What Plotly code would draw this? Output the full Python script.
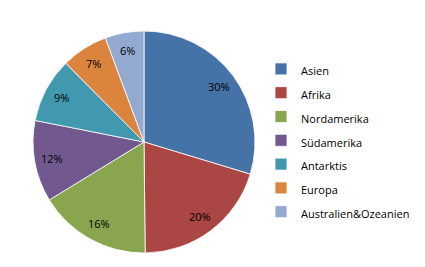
import math
import plotly.graph_objects as go

labels = ["Asien", "Afrika", "Nordamerika", "Südamerika", "Antarktis", "Europa", "Australien&Ozeanien"]
values = [44.6, 30.3, 24.7, 17.8, 14.2, 10.2, 8.5]
colors = ["#4572A7", "#AA4643", "#89A54E", "#71588F", "#4198AF", "#DB843D", "#93A9CF"]

W, H = 425, 267
ML, MR, MT, MB = 33, 0, 31, 14
PW, PH = W - ML - MR, H - MT - MB
DIAM = PH
FONT = "Open Sans, Liberation Sans, Arial, sans-serif"

legend_names = ['<span style="font-size:11px">%s</span>' % s for s in labels]

fig = go.Figure(go.Pie(
    labels=legend_names,
    values=values,
    sort=False,
    direction="clockwise",
    rotation=0,
    marker=dict(colors=colors, line=dict(color="#FFFFFF", width=0.8)),
    textinfo="none",
    hovertext=labels,
    hoverinfo="text+percent",
    domain=dict(x=[0, DIAM / PW], y=[0, 1]),
))

# percentage labels placed along each slice's mid-angle
total = sum(values)
cx, cy = DIAM / 2, PH / 2  # pixels within plot area (y from bottom)
r = DIAM / 2
rho = 0.84
cum = 0.0
for v in values:
    mid = (cum + v / 2) / total * 2 * math.pi
    cum += v
    px = cx + rho * r * math.sin(mid)
    py = cy + rho * r * math.cos(mid)
    fig.add_annotation(
        x=px / PW, y=py / PH, xref="paper", yref="paper",
        text="%d%%" % round(v / total * 100),
        showarrow=False, xanchor="center", yanchor="middle",
        font=dict(family=FONT, size=11, color="#000000"),
    )

fig.update_layout(
    width=W, height=H,
    margin=dict(l=ML, r=MR, t=MT, b=MB, autoexpand=False),
    paper_bgcolor="#FFFFFF",
    plot_bgcolor="#FFFFFF",
    showlegend=True,
    legend=dict(
        x=(261 - ML) / PW, xanchor="left", y=1 - (52 - MT) / PH, yanchor="top",
        font=dict(family=FONT, size=16, color="#000000"),
        itemwidth=30,
        traceorder="normal",
        bgcolor="rgba(0,0,0,0)",
    ),
)

fig.write_html("out.html")
